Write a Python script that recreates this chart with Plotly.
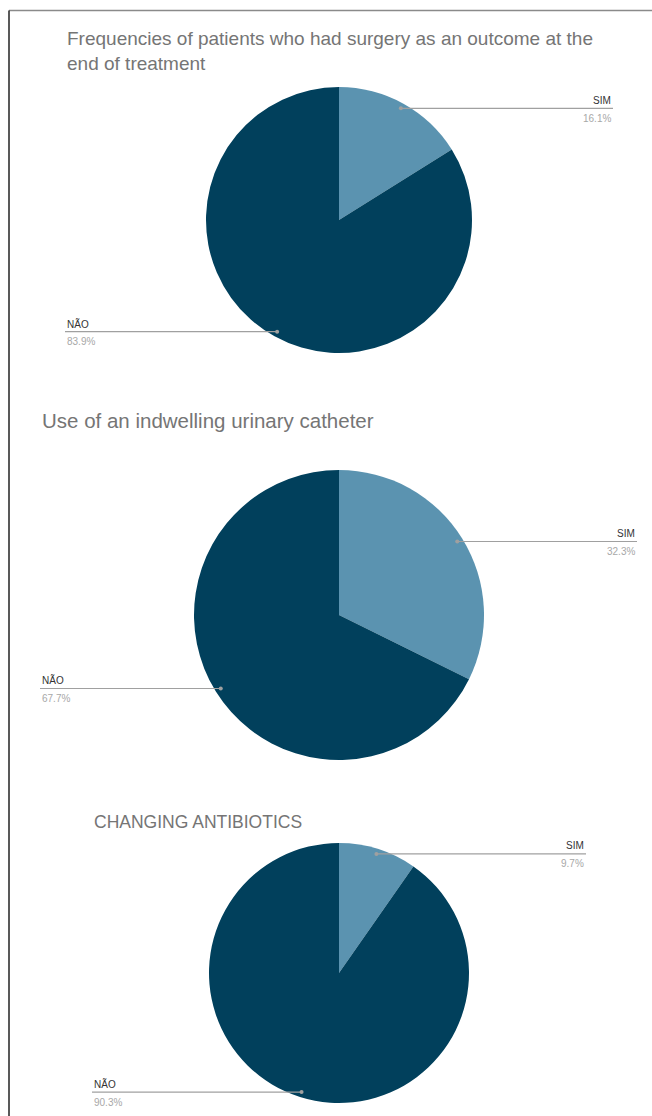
import numpy as np
import plotly.graph_objects as go

# ---- data ----
categories = ["SIM", "NÃO"]
surgery = [16.1, 83.9]
catheter = [32.3, 67.7]
antibiotics = [9.7, 90.3]
titles = [
    "Frequencies of patients who had surgery as an outcome at the<br>end of treatment",
    "Use of an indwelling urinary catheter",
    "CHANGING ANTIBIOTICS",
]
series = [surgery, catheter, antibiotics]

# ---- layout (screen pixel geometry) ----
W, H = 652, 1116
colors = ["#5b93b0", "#01405c"]
charts = [
    dict(cx=339, cy=220, r=133, tx=65, ty=51, ts=19, left=65, right=613),
    dict(cx=339, cy=615, r=145, tx=40, ty=420, ts=20.5, left=40, right=637),
    dict(cx=339, cy=973, r=130, tx=92, ty=822, ts=17.5, left=92, right=586),
]

fig = go.Figure()
shapes = []
annotations = []

for vals, title, c in zip(series, titles, charts):
    cx, cy, r = c["cx"], c["cy"], c["r"]
    fig.add_trace(go.Pie(
        labels=categories, values=vals, sort=False, direction="clockwise",
        rotation=0, textinfo="none", hoverinfo="label+percent",
        marker=dict(colors=colors, line=dict(width=0)),
        domain=dict(x=[(cx - r) / W, (cx + r) / W],
                    y=[1 - (cy + r) / H, 1 - (cy - r) / H]),
        showlegend=False,
    ))
    annotations.append(dict(
        x=c["tx"], y=c["ty"], xref="x", yref="y", text=title,
        showarrow=False, xanchor="left", yanchor="middle", align="left",
        font=dict(family="Liberation Sans, Arial", size=c["ts"], color="#757575"),
    ))
    total = float(sum(vals))
    cum = np.cumsum([0] + list(vals))
    for i, (lab, v) in enumerate(zip(categories, vals)):
        mid = (cum[i] + v / 2) / total * 2 * np.pi
        px = cx + 0.96 * r * np.sin(mid)
        py = cy - 0.96 * r * np.cos(mid)
        right_side = np.sin(mid) > 0
        end = c["right"] if right_side else c["left"]
        shapes.append(dict(type="line", xref="x", yref="y", x0=px, y0=py,
                           x1=end, y1=py, layer="above",
                           line=dict(color="#a0a0a0", width=1.2)))
        shapes.append(dict(type="circle", xref="x", yref="y", x0=px - 2,
                           x1=px + 2, y0=py - 2, y1=py + 2, layer="above",
                           fillcolor="#a0a0a0", line=dict(width=0)))
        anchor = "right" if right_side else "left"
        annotations.append(dict(
            x=end, y=py - 8, xref="x", yref="y", text=lab, showarrow=False,
            xanchor=anchor, yanchor="middle",
            font=dict(family="Liberation Sans, Arial", size=10, color="#333333"),
        ))
        annotations.append(dict(
            x=end, y=py + 10, xref="x", yref="y", text=f"{v / total * 100:.1f}%",
            showarrow=False, xanchor=anchor, yanchor="middle",
            font=dict(family="Liberation Sans, Arial", size=10, color="#a8a8a8"),
        ))

# frame lines
shapes.append(dict(type="line", xref="x", yref="y", x0=9, x1=W, y0=10.5,
                   y1=10.5, layer="above", line=dict(color="#8a8a8a", width=1.5)))
shapes.append(dict(type="line", xref="x", yref="y", x0=9, x1=9,
                   y0=10.5, y1=H, layer="above",
                   line=dict(color="#222222", width=1.5)))

fig.update_layout(
    width=W, height=H, margin=dict(l=0, r=0, t=0, b=0),
    paper_bgcolor="white", plot_bgcolor="white",
    xaxis=dict(range=[0, W], visible=False, fixedrange=True, domain=[0, 1]),
    yaxis=dict(range=[H, 0], visible=False, fixedrange=True, domain=[0, 1]),
    shapes=shapes, annotations=annotations, showlegend=False,
)

fig.write_html(
    "out.html",
    config={"displayModeBar": False},
    post_script="document.body.style.margin='0';"
                "document.documentElement.style.overflow='hidden';",
)
